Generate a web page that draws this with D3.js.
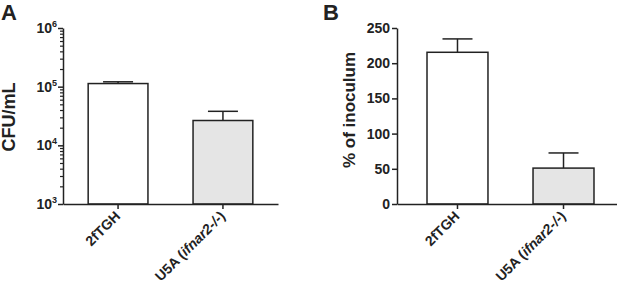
<!DOCTYPE html>
<html>
<head>
<meta charset="UTF-8">
<script src="https://cdn.jsdelivr.net/npm/d3@7"></script>
<style>
body{margin:0;background:#fff;}
text{font-family:"Liberation Sans",Arial,sans-serif;font-weight:bold;fill:#222;}
</style>
</head>
<body>
<div id="chart"></div>
<script>
var categories = ["2fTGH", "U5A"];
var cfuMeans = [113000, 26500];
var cfuErrTop = [121000, 38000];
var inocMeans = [215.5, 51];
var inocErrTop = [234.5, 72.5];
var cfuTicks = [1e3, 1e4, 1e5, 1e6];
var inocTicks = [0, 50, 100, 150, 200, 250];
var fills = ["#ffffff", "#e5e5e5"];

var W = 617, H = 288;
var svg = d3.select("#chart").append("svg").attr("width", W).attr("height", H);
var ink = "#222";

function xLabels(g, x) {
    categories.forEach(function(c, i) {
        var t = g.append("text")
            .attr("transform", "translate(" + (x(c) + x.bandwidth()/2 + 3) + ",217) rotate(-45)")
            .attr("text-anchor", "end")
            .style("font-size", "14px");
        if (i === 0) {
            t.text(c);
        } else {
            t.append("tspan").text("U5A (");
            t.append("tspan").style("font-style", "italic").text("ifnar2-/-");
            t.append("tspan").text(")");
        }
    });
}

function bars(g, x, y, means, errs, base) {
    categories.forEach(function(c, i) {
        var cx = x(c) + x.bandwidth()/2;
        g.append("line").attr("x1", cx).attr("x2", cx)
            .attr("y1", y(means[i])).attr("y2", y(errs[i]))
            .attr("stroke", ink).attr("stroke-width", 1.5);
        g.append("line").attr("x1", cx - 15).attr("x2", cx + 15)
            .attr("y1", y(errs[i])).attr("y2", y(errs[i]))
            .attr("stroke", ink).attr("stroke-width", 1.5);
        g.append("rect").attr("x", x(c)).attr("width", x.bandwidth())
            .attr("y", y(means[i])).attr("height", y(base) - y(means[i]))
            .attr("fill", fills[i]).attr("stroke", ink).attr("stroke-width", 1.5);
    });
}

// ---- Panel A
var gA = svg.append("g");
var xA = d3.scaleBand().domain(categories).range([63, 278]).paddingInner(0.43).paddingOuter(0.24);
var yA = d3.scaleLog().domain([1e3, 1e6]).range([204, 28]);

bars(gA, xA, yA, cfuMeans, cfuErrTop, 1e3);

var minors = [];
for (var d = 1e3; d < 1e6; d *= 10) for (var k = 2; k <= 9; k++) minors.push(d * k);
gA.append("g").attr("transform", "translate(63,0)")
    .call(d3.axisLeft(yA).tickValues(minors).tickSize(3).tickFormat(""))
    .call(function(a){ a.select(".domain").remove(); a.selectAll("line").attr("stroke", ink).attr("stroke-width", 1.2); });
var axA = gA.append("g").attr("transform", "translate(63,0)")
    .call(d3.axisLeft(yA).tickValues(cfuTicks).tickSize(5).tickSizeOuter(0).tickFormat(""));
axA.select(".domain").attr("stroke", ink).attr("stroke-width", 1.5);
axA.selectAll("line").attr("stroke", ink).attr("stroke-width", 1.5);
cfuTicks.forEach(function(v) {
    var t = gA.append("text").attr("x", 57).attr("y", yA(v) + 5).attr("text-anchor", "end").style("font-size", "14px");
    t.append("tspan").text("10");
    t.append("tspan").attr("dy", -6).style("font-size", "9px").text(Math.round(Math.log10(v)));
});
gA.append("g").attr("transform", "translate(0,204)")
    .call(d3.axisBottom(xA).tickSize(5).tickSizeOuter(0).tickFormat(""))
    .call(function(a){ a.selectAll("line").attr("stroke", ink).attr("stroke-width", 1.5); a.select(".domain").attr("stroke", ink).attr("stroke-width", 1.5); });
xLabels(gA, xA);
gA.append("text").attr("transform", "translate(15,117) rotate(-90)").attr("text-anchor", "middle").style("font-size", "18px").text("CFU/mL");
gA.append("text").attr("x", 1).attr("y", 20).style("font-size", "22px").text("A");

// ---- Panel B
var gB = svg.append("g");
var xB = d3.scaleBand().domain(categories).range([397, 624]).paddingInner(0.425).paddingOuter(0.283);
var yB = d3.scaleLinear().domain([0, 250]).range([204, 28]);

bars(gB, xB, yB, inocMeans, inocErrTop, 0);

var axB = gB.append("g").attr("transform", "translate(397,0)")
    .call(d3.axisLeft(yB).tickValues(inocTicks).tickSize(5).tickSizeOuter(0).tickPadding(2));
axB.select(".domain").attr("stroke", ink).attr("stroke-width", 1.5);
axB.selectAll("line").attr("stroke", ink).attr("stroke-width", 1.5);
axB.selectAll("text").style("font-size", "14px").attr("font-family", null).style("fill", ink);
gB.append("g").attr("transform", "translate(0,204)")
    .call(d3.axisBottom(xB).tickSize(5).tickSizeOuter(0).tickFormat(""))
    .call(function(a){ a.selectAll("line").attr("stroke", ink).attr("stroke-width", 1.5); a.select(".domain").attr("stroke", ink).attr("stroke-width", 1.5); });
xLabels(gB, xB);
gB.append("text").attr("transform", "translate(355,110) rotate(-90)").attr("text-anchor", "middle").style("font-size", "17px").text("% of inoculum");
gB.append("text").attr("x", 323).attr("y", 20).style("font-size", "22px").text("B");
</script>
</body>
</html>
